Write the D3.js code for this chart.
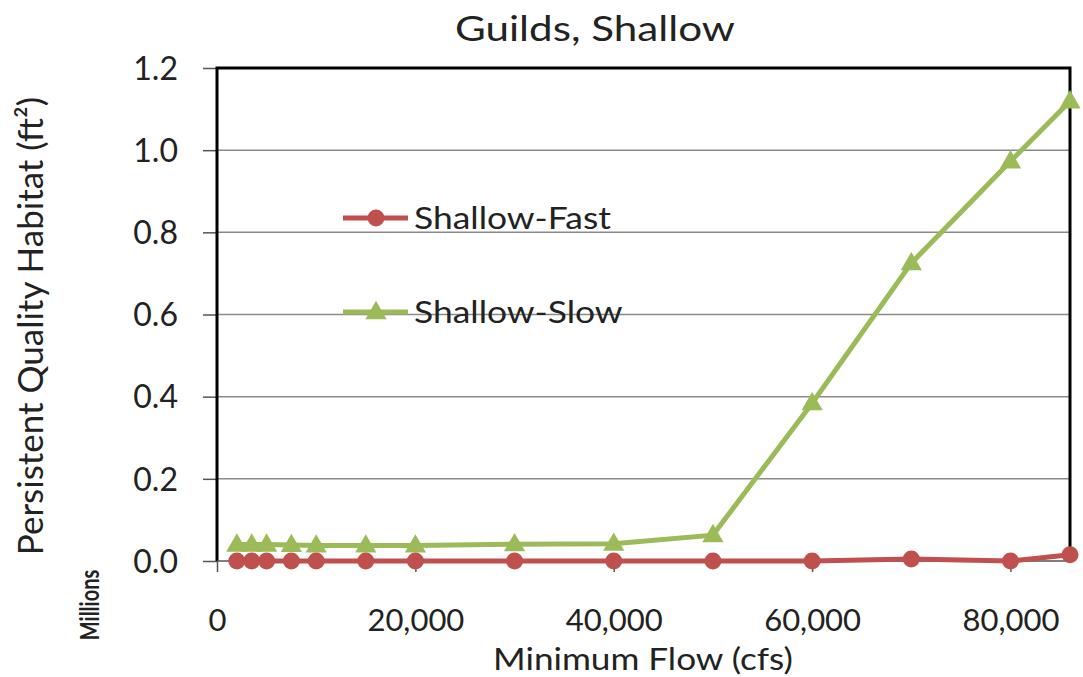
<!DOCTYPE html>
<html><head><meta charset="utf-8">
<script src="https://cdn.jsdelivr.net/npm/d3@7"></script>
<style>body{margin:0;background:#fff}svg{display:block}text{font-family:Lato,"Open Sans",sans-serif;fill:#222}</style>
</head><body>
<script>
const flows = [2000,3500,5000,7500,10000,15000,20000,30000,40000,50000,60000,70000,80000,86000];
const shallowFast = [0,0,0,0,0,0,0,0,0,0,0,0.005,0,0.015];
const shallowSlow = [0.04,0.04,0.04,0.039,0.038,0.038,0.038,0.041,0.042,0.063,0.384,0.725,0.973,1.119];
const yTicks = [0,0.2,0.4,0.6,0.8,1.0,1.2];
const xTicks = [0,20000,40000,60000,80000];
const seriesNames = ["Shallow-Fast","Shallow-Slow"];

const W=1083,H=677;
const svg=d3.select("body").append("svg").attr("width",W).attr("height",H);
const L=217,R=1070,T=68,B=561;
const x=d3.scaleLinear().domain([0,86000]).range([L,R]);
const y=d3.scaleLinear().domain([0,1.2]).range([B,T]);

// horizontally-stretched text helper
function htext(str,cx,cy,fs,width,anchor,weight){
  const t=svg.append("text").attr("font-size",fs).attr("text-anchor",anchor||"middle").text(str);
  if(weight) t.attr("font-weight",weight);
  const len=t.node().getComputedTextLength();
  const k=width?width/len:1;
  t.attr("transform",`translate(${cx},${cy}) scale(${k},1)`);
  return t;
}

// gridlines
svg.append("g").selectAll("line").data(yTicks.slice(1,-1)).join("line")
 .attr("x1",L).attr("x2",R).attr("y1",d=>y(d)).attr("y2",d=>y(d))
 .attr("stroke","#8a8a8a").attr("stroke-width",1.5);

// y axis
const ya=svg.append("g").attr("transform",`translate(${L},0)`)
 .call(d3.axisLeft(y).tickValues(yTicks).tickFormat(d3.format(".1f")).tickSize(14).tickPadding(25));
ya.select(".domain").remove();
ya.selectAll(".tick line").attr("stroke","#555").attr("stroke-width",1.5);
ya.selectAll(".tick text").attr("font-size",32).attr("fill","#222").attr("dy","0.35em");

// x axis
const xa=svg.append("g").attr("transform",`translate(0,${B})`)
 .call(d3.axisBottom(x).tickValues(xTicks).tickFormat(d3.format(",")).tickSize(11).tickPadding(37));
xa.select(".domain").remove();
xa.selectAll(".tick line").attr("stroke","#555").attr("stroke-width",1.5);
xa.selectAll(".tick text").attr("font-size",31).attr("fill","#222");

// frame
svg.append("path").attr("d",`M${L},${B}V${T}H${R}V${B}`).attr("fill","none").attr("stroke","#000").attr("stroke-width",3);
svg.append("line").attr("x1",L).attr("x2",R).attr("y1",B).attr("y2",B).attr("stroke","#555").attr("stroke-width",1.5);

const colors=["#C0504D","#9BBB59"];
const line=d3.line().x((d,i)=>x(flows[i])).y(d=>y(d));
const tri=d3.symbol().type(d3.symbolTriangle).size(195);

// slow series
svg.append("path").datum(shallowSlow).attr("d",line).attr("fill","none").attr("stroke",colors[1]).attr("stroke-width",5);
svg.append("g").selectAll("path").data(shallowSlow).join("path")
 .attr("d",tri).attr("transform",(d,i)=>`translate(${x(flows[i])},${y(d)+1})`).attr("fill",colors[1]);
// fast series
svg.append("path").datum(shallowFast).attr("d",line).attr("fill","none").attr("stroke",colors[0]).attr("stroke-width",5);
svg.append("g").selectAll("circle").data(shallowFast).join("circle")
 .attr("cx",(d,i)=>x(flows[i])).attr("cy",d=>y(d)).attr("r",8.5).attr("fill",colors[0]);

// legend
const ly=[218,312];
let legK=null;
seriesNames.forEach((n,i)=>{
  svg.append("line").attr("x1",343).attr("x2",408).attr("y1",ly[i]).attr("y2",ly[i]).attr("stroke",colors[i]).attr("stroke-width",5);
  if(i===0) svg.append("circle").attr("cx",376).attr("cy",ly[i]).attr("r",8.5).attr("fill",colors[i]);
  else svg.append("path").attr("d",tri).attr("transform",`translate(376,${ly[i]+1})`).attr("fill",colors[i]);
  const t=svg.append("text").attr("font-size",30).attr("dy","0.35em").text(n);
  if(legK===null) legK=197/t.node().getComputedTextLength();
  t.attr("transform",`translate(414,${ly[i]}) scale(${legK},1)`);
});

// titles
htext("Guilds, Shallow",595,41,35,280);
htext("Minimum Flow (cfs)",643,670,30,300);
svg.append("text").attr("transform","translate(43,326) rotate(-90)").attr("text-anchor","middle").attr("font-size",35).text("Persistent Quality Habitat (ft²)");
svg.append("text").attr("transform","translate(99,605) rotate(-90) scale(1,1.3)").attr("text-anchor","middle").attr("font-size",20).attr("font-weight","bold").text("Millions");
</script>
</body></html>
